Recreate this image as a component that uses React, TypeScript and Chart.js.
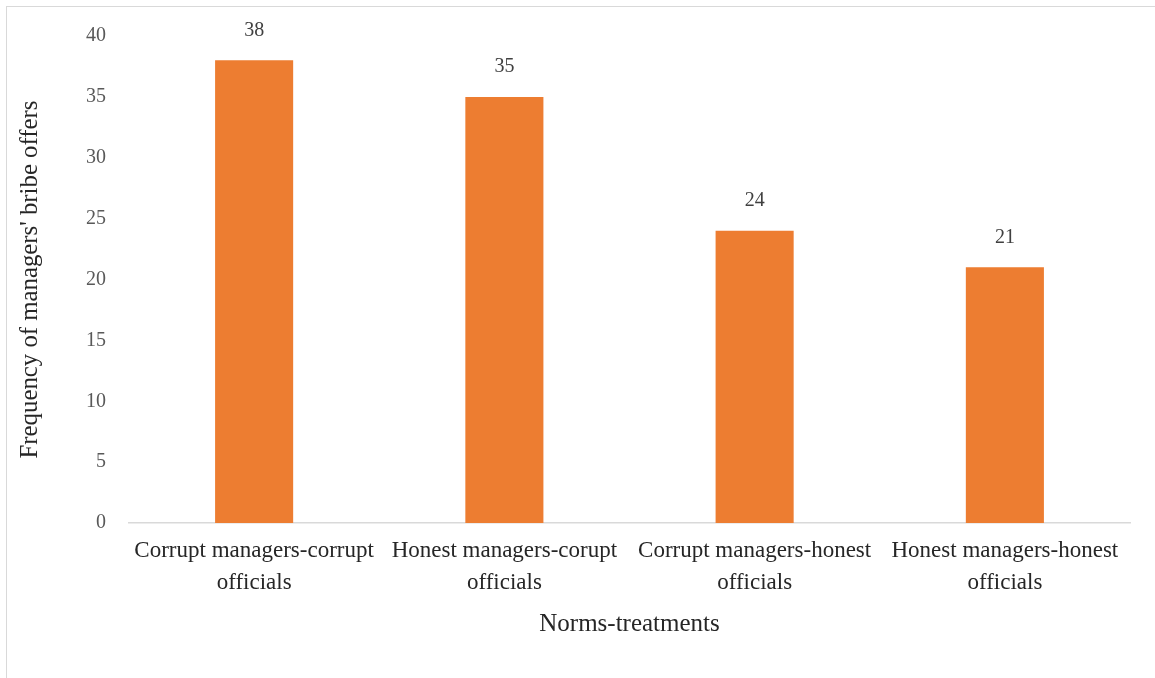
import React, { useEffect, useRef } from "react";
import { Chart, registerables } from "chart.js";

Chart.register(...registerables);

// Treatment categories (each split over two lines under the axis)
const categories: string[][] = [
  ["Corrupt managers-corrupt", "officials"],
  ["Honest managers-corupt", "officials"],
  ["Corrupt managers-honest", "officials"],
  ["Honest managers-honest", "officials"],
];

// Number of bribe offers per treatment
const bribeOffers: number[] = [38, 35, 24, 21];

// Value axis settings
const yMin = 0;
const yMax = 40;
const yStep = 5;

const FONT = "'Liberation Serif', 'Times New Roman', serif";

// Writes each bar's value above it
const valueLabels = {
  id: "valueLabels",
  afterDatasetsDraw(chart: any) {
    const { ctx } = chart;
    const meta = chart.getDatasetMeta(0);
    ctx.save();
    ctx.font = `20px ${FONT}`;
    ctx.fillStyle = "#404040";
    ctx.textAlign = "center";
    ctx.textBaseline = "middle";
    meta.data.forEach((bar: any, i: number) => {
      const v = chart.data.datasets[0].data[i];
      ctx.fillText(String(v), bar.x, bar.y - 30);
    });
    ctx.restore();
  },
};

export default function App() {
  const canvasRef = useRef<HTMLCanvasElement | null>(null);

  useEffect(() => {
    if (!canvasRef.current) return;
    const chart = new Chart(canvasRef.current, {
      type: "bar",
      data: {
        labels: categories,
        datasets: [
          {
            data: bribeOffers,
            backgroundColor: "#ED7D31",
            barPercentage: 0.312,
            categoryPercentage: 1,
          },
        ],
      },
      options: {
        animation: false,
        responsive: false,
        maintainAspectRatio: false,
        layout: { padding: { top: 36, right: 25, left: 0, bottom: 0 } },
        plugins: {
          legend: { display: false },
          tooltip: { enabled: false },
        },
        scales: {
          x: {
            grid: { display: false, drawTicks: false },
            border: { display: true, color: "#d9d9d9", width: 1.5 },
            ticks: {
              color: "#262626",
              font: { family: FONT, size: 23, lineHeight: 1.4 },
              padding: 12,
              maxRotation: 0,
              autoSkip: false,
            },
            title: {
              display: true,
              text: "Norms-treatments",
              color: "#262626",
              font: { family: FONT, size: 25, lineHeight: 1.2 },
              padding: { top: 0, bottom: 39 },
            },
            afterFit(scale: any) {
              scale.height = 155;
            },
          },
          y: {
            min: yMin,
            max: yMax,
            grid: { display: false, drawTicks: false },
            border: { display: false },
            ticks: {
              stepSize: yStep,
              color: "#595959",
              font: { family: FONT, size: 20 },
              padding: 23,
            },
            title: {
              display: true,
              text: "Frequency of managers' bribe offers",
              color: "#262626",
              font: { family: FONT, size: 24.8, lineHeight: 1.2 },
              padding: { top: 16, bottom: 0 },
            },
            afterFit(scale: any) {
              scale.width = 129;
            },
          },
        },
      },
      plugins: [valueLabels],
    });
    return () => chart.destroy();
  }, []);

  return (
    <div
      style={{
        position: "fixed",
        left: 0,
        top: 0,
        width: 1155,
        height: 678,
        overflow: "hidden",
        background: "#fff",
      }}
    >
      <div
        style={{
          position: "absolute",
          left: 6,
          top: 6,
          width: 1200,
          height: 700,
          borderLeft: "1.5px solid #d9d9d9",
          borderTop: "1.5px solid #d9d9d9",
        }}
      />
      <canvas
        ref={canvasRef}
        width={1155}
        height={678}
        style={{ position: "absolute", left: 0, top: 0, width: 1155, height: 678 }}
      />
    </div>
  );
}
